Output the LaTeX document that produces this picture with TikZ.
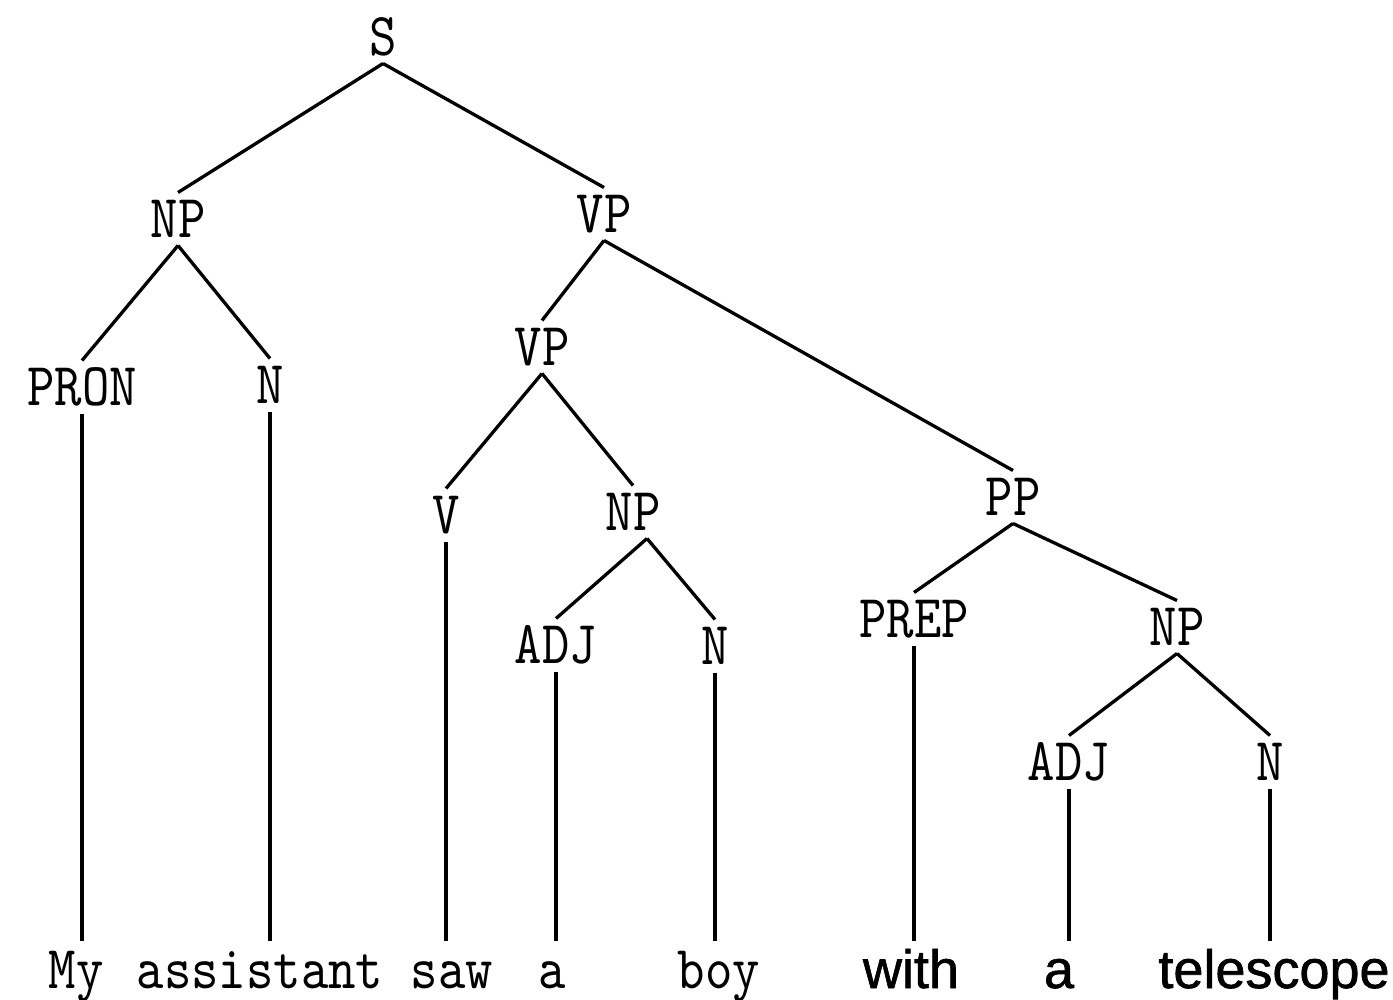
\documentclass[tikz,border=0pt]{standalone}
\usepackage{fontspec}
\newfontfamily\treefont[Extension=.otf,FakeStretch=0.855]{lmmono10-regular}
\newfontfamily\wordfont[FakeBold=1.2]{Liberation Sans}

\begin{document}
\begin{tikzpicture}[x=1pt,y=-1pt]

\tikzset{%
  cat/.style    = {font=\treefont\fontsize{61}{61}\selectfont, inner sep=0pt,
                   outer sep=8pt, text height=37pt, text depth=0pt},
  word/.style   = {cat, anchor=base, outer sep=10pt},
  eng/.style    = {word, font=\wordfont\fontsize{54}{54}\selectfont},
  branch/.style = {line width=3.3pt},
}

\useasboundingbox (0,0) rectangle (1393,1000);

% Categories
\node[cat] (s)    at (383,37)   {S};
\node[cat] (np)   at (178,219)  {NP};
\node[cat] (vp)   at (604,214)  {VP};
\node[cat] (pron) at (82,387)   {PRON};
\node[cat] (n1)   at (270,385)  {N};
\node[cat] (vp2)  at (542,347)  {VP};
\node[cat] (v)    at (446,515)  {V};
\node[cat] (np2)  at (633,512)  {NP};
\node[cat] (adj1) at (556,645)  {ADJ};
\node[cat] (n2)   at (715,646)  {N};
\node[cat] (pp)   at (1013,497) {PP};
\node[cat] (prep) at (914,619)  {PREP};
\node[cat] (np3)  at (1177,627) {NP};
\node[cat] (adj2) at (1069,762) {ADJ};
\node[cat] (n3)   at (1270,762) {N};

% Words
\node[word] (my)        at (76,988)   {My};
\node[word] (assistant) at (260,988)  {assistant};
\node[word] (saw)       at (452,988)  {saw};
\node[word] (a1)        at (552,988)  {a};
\node[word] (boy)       at (719,988)  {boy};
\node[eng]  (with)      at (911,988)  {with};
\node[eng]  (a2)        at (1059,988) {a};
\node[eng]  (telescope) at (1274,988) {telescope};

% Sentence
\draw[branch] (s.south) -- (np.north);
\draw[branch] (s.south) -- (vp.north);

% Subject
\draw[branch] (np.south) -- (pron.north);
\draw[branch] (np.south) -- (n1.north);

% Predicate
\draw[branch] (vp.south) -- (vp2.north);
\draw[branch] (vp.south) -- (pp.north);
\draw[branch] (vp2.south) -- (v.north);
\draw[branch] (vp2.south) -- (np2.north);
\draw[branch] ([xshift=14pt]np2.south) -- (adj1.north);
\draw[branch] ([xshift=14pt]np2.south) -- (n2.north);

% Prepositional phrase
\draw[branch] (pp.south) -- (prep.north);
\draw[branch] (pp.south) -- (np3.north);
\draw[branch] (np3.south) -- (adj2.north);
\draw[branch] (np3.south) -- (n3.north);

% Leaves
\draw[branch] (pron.south) -- (pron.south |- my.north);
\draw[branch] (n1.south)   -- (n1.south |- assistant.north);
\draw[branch] (v.south)    -- (v.south |- saw.north);
\draw[branch] (adj1.south) -- (adj1.south |- a1.north);
\draw[branch] (n2.south)   -- (n2.south |- boy.north);
\draw[branch] (prep.south) -- (prep.south |- with.north);
\draw[branch] (adj2.south) -- (adj2.south |- a2.north);
\draw[branch] (n3.south)   -- (n3.south |- telescope.north);

\end{tikzpicture}
\end{document}
